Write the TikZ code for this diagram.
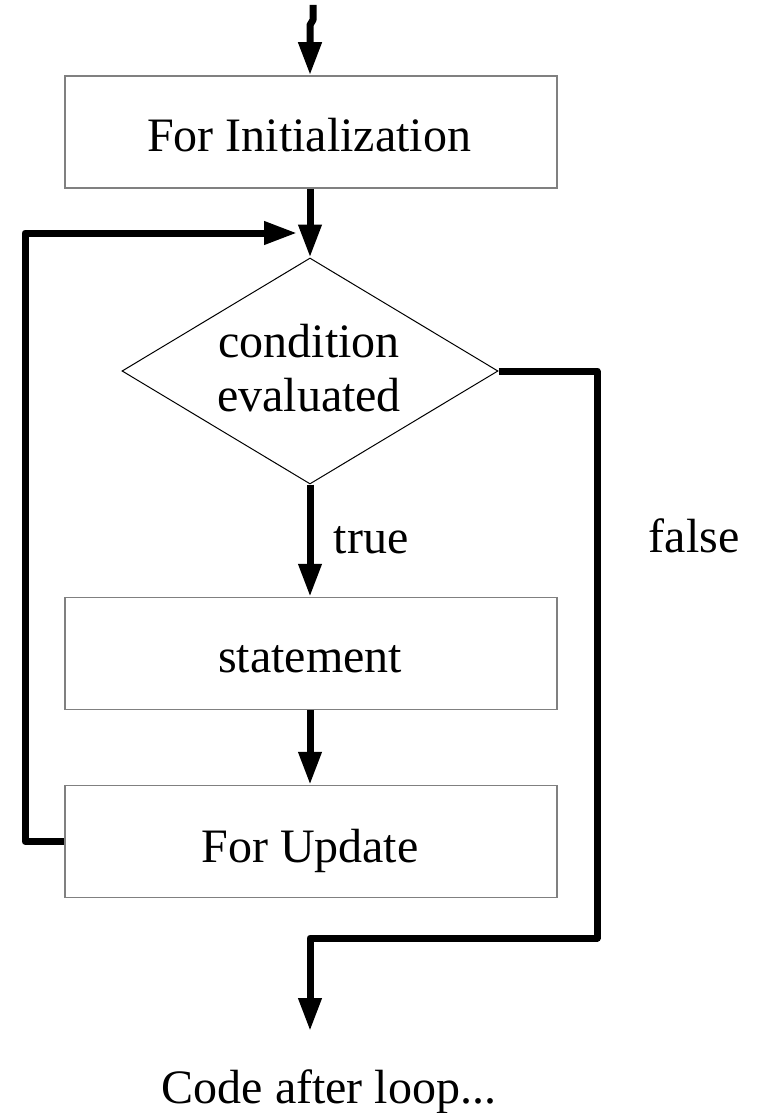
\documentclass[tikz,border=0pt]{standalone}
\usepackage{fontspec}
\setmainfont{Liberation Serif}
\usetikzlibrary{shapes.geometric,arrows.meta}
\begin{document}
\begin{tikzpicture}[x=1pt,y=-1pt,
  every node/.style={font=\fontsize{48}{54}\selectfont},
  txt/.style={anchor=base, inner sep=0pt},
  stepbox/.style={draw=black!50, line width=1.5pt, minimum width=492pt, minimum height=112pt, inner sep=0pt},
  decision/.style={diamond, draw=black, line width=1pt, minimum width=376pt, minimum height=226pt, inner sep=0pt},
  flow/.style={line width=7pt, line join=round, -{Triangle[length=33pt,width=22pt]}}]
\useasboundingbox (0,0) rectangle (758,1113);
\node[stepbox] (init) at (311,132) {};
\node[txt] (inittext) at (309,151) {For Initialization};
\node[decision] (cond) at (310,371) {};
\node[txt] (condtext1) at (309,357) {condition};
\node[txt] (condtext2) at (309,411) {evaluated};
\node[stepbox] (stmt) at (311,653.5) {};
\node[txt] (stmttext) at (310,672) {statement};
\node[stepbox] (upd) at (311,841.5) {};
\node[txt] (updtext) at (310,862) {For Update};
\node[txt] (after) at (329,1103) {Code after loop...};
\node[txt] (truel) at (371,553) {true};
\node[txt] (falsel) at (694,552) {false};
\coordinate (start) at (313,5);
\coordinate (merge) at (297,233);
\coordinate (end) at (310,1031);
\draw[flow] (start) -- ++(0,15) -- ++(-3,5) -- (init.north -| 310,0);
\draw[flow] (init.south -| cond.north) -- (cond.north);
\draw[flow] (upd.west) -- (25,841.5) -- (25,233) -- (merge);
\draw[flow] (cond.south) -- (stmt.north -| cond.south);
\draw[flow] (stmt.south -| cond.south) -- (upd.north -| cond.south);
\draw[flow] (cond.east) -- (597,371) -- (597,938) -- (310,938) -- (end);
\end{tikzpicture}
\end{document}
